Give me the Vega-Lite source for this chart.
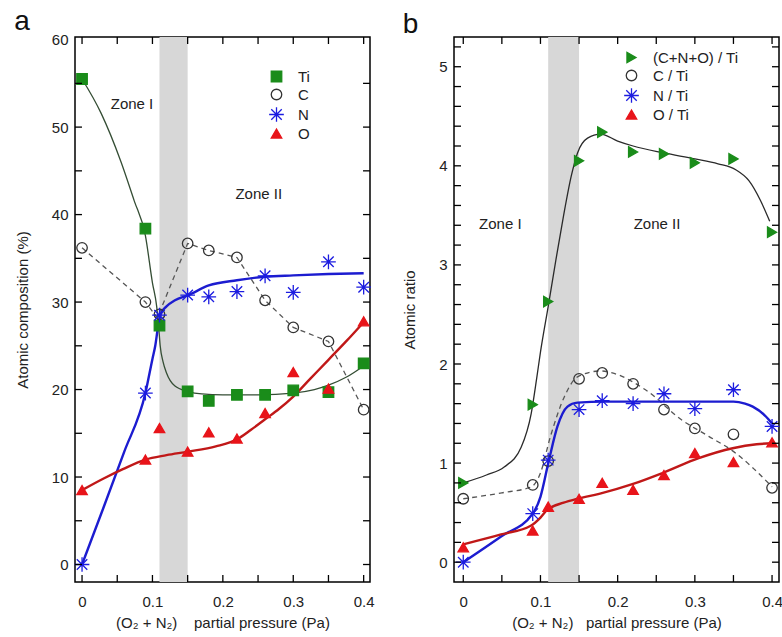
{
  "$schema": "https://vega.github.io/schema/vega-lite/v6.json",
  "background": "white",
  "padding": {"left": 13, "top": 6, "right": 0, "bottom": 0},
  "spacing": 26,
  "datasets": {
    "xt": [{"v": 0}, {"v": 0.05}, {"v": 0.1}, {"v": 0.15}, {"v": 0.2}, {"v": 0.25}, {"v": 0.3}, {"v": 0.35}, {"v": 0.4}],
    "ytA": [{"v": 0}, {"v": 5}, {"v": 10}, {"v": 15}, {"v": 20}, {"v": 25}, {"v": 30}, {"v": 35}, {"v": 40}, {"v": 45}, {"v": 50}, {"v": 55}],
    "ytB": [{"v": 0}, {"v": 0.2}, {"v": 0.4}, {"v": 0.6}, {"v": 0.8}, {"v": 1}, {"v": 1.2}, {"v": 1.4}, {"v": 1.6}, {"v": 1.8}, {"v": 2}, {"v": 2.2}, {"v": 2.4}, {"v": 2.6}, {"v": 2.8}, {"v": 3}, {"v": 3.2}, {"v": 3.4}, {"v": 3.6}, {"v": 3.8}, {"v": 4}, {"v": 4.2}, {"v": 4.4}, {"v": 4.6}, {"v": 4.8}, {"v": 5}, {"v": 5.2}],
    "ptsA": [
      {"x": 0, "y": 55.5, "el": "Ti"}, {"x": 0.09, "y": 38.4, "el": "Ti"}, {"x": 0.11, "y": 27.3, "el": "Ti"}, {"x": 0.15, "y": 19.8, "el": "Ti"}, {"x": 0.18, "y": 18.7, "el": "Ti"}, {"x": 0.22, "y": 19.4, "el": "Ti"}, {"x": 0.26, "y": 19.4, "el": "Ti"}, {"x": 0.30, "y": 19.9, "el": "Ti"}, {"x": 0.35, "y": 19.7, "el": "Ti"}, {"x": 0.40, "y": 23.0, "el": "Ti"},
      {"x": 0, "y": 36.2, "el": "C"}, {"x": 0.09, "y": 30.0, "el": "C"}, {"x": 0.11, "y": 28.6, "el": "C"}, {"x": 0.15, "y": 36.7, "el": "C"}, {"x": 0.18, "y": 35.9, "el": "C"}, {"x": 0.22, "y": 35.1, "el": "C"}, {"x": 0.26, "y": 30.2, "el": "C"}, {"x": 0.30, "y": 27.1, "el": "C"}, {"x": 0.35, "y": 25.5, "el": "C"}, {"x": 0.40, "y": 17.7, "el": "C"},
      {"x": 0, "y": 0, "el": "N"}, {"x": 0.09, "y": 19.6, "el": "N"}, {"x": 0.11, "y": 28.5, "el": "N"}, {"x": 0.15, "y": 30.8, "el": "N"}, {"x": 0.18, "y": 30.6, "el": "N"}, {"x": 0.22, "y": 31.2, "el": "N"}, {"x": 0.26, "y": 33.0, "el": "N"}, {"x": 0.30, "y": 31.1, "el": "N"}, {"x": 0.35, "y": 34.6, "el": "N"}, {"x": 0.40, "y": 31.7, "el": "N"},
      {"x": 0, "y": 8.5, "el": "O"}, {"x": 0.09, "y": 12.0, "el": "O"}, {"x": 0.11, "y": 15.6, "el": "O"}, {"x": 0.15, "y": 12.9, "el": "O"}, {"x": 0.18, "y": 15.1, "el": "O"}, {"x": 0.22, "y": 14.4, "el": "O"}, {"x": 0.26, "y": 17.3, "el": "O"}, {"x": 0.30, "y": 22.0, "el": "O"}, {"x": 0.35, "y": 20.1, "el": "O"}, {"x": 0.40, "y": 27.8, "el": "O"}
    ],
    "fitA": [
      {"x": 0, "y": 55.5, "s": "Ti"}, {"x": 0.027, "y": 51.6, "s": "Ti"}, {"x": 0.055, "y": 46.1, "s": "Ti"}, {"x": 0.074, "y": 41.6, "s": "Ti"}, {"x": 0.09, "y": 37.6, "s": "Ti"}, {"x": 0.1, "y": 32.2, "s": "Ti"}, {"x": 0.106, "y": 29.5, "s": "Ti"}, {"x": 0.109, "y": 27.0, "s": "Ti"}, {"x": 0.111, "y": 25.0, "s": "Ti"}, {"x": 0.115, "y": 23.2, "s": "Ti"}, {"x": 0.12, "y": 21.9, "s": "Ti"}, {"x": 0.132, "y": 20.4, "s": "Ti"}, {"x": 0.15, "y": 19.8, "s": "Ti"}, {"x": 0.17, "y": 19.5, "s": "Ti"}, {"x": 0.2, "y": 19.4, "s": "Ti"}, {"x": 0.25, "y": 19.4, "s": "Ti"}, {"x": 0.3, "y": 19.6, "s": "Ti"}, {"x": 0.33, "y": 20.0, "s": "Ti"}, {"x": 0.35, "y": 20.5, "s": "Ti"}, {"x": 0.375, "y": 21.4, "s": "Ti"}, {"x": 0.4, "y": 22.7, "s": "Ti"},
      {"x": 0, "y": 36.2, "s": "C"}, {"x": 0.09, "y": 30.0, "s": "C"}, {"x": 0.107, "y": 28.2, "s": "C"}, {"x": 0.15, "y": 36.7, "s": "C"}, {"x": 0.18, "y": 35.9, "s": "C"}, {"x": 0.22, "y": 35.1, "s": "C"}, {"x": 0.26, "y": 30.2, "s": "C"}, {"x": 0.30, "y": 27.1, "s": "C"}, {"x": 0.35, "y": 25.5, "s": "C"}, {"x": 0.40, "y": 17.7, "s": "C"},
      {"x": 0, "y": 0, "s": "N"}, {"x": 0.03, "y": 6.4, "s": "N"}, {"x": 0.06, "y": 12.9, "s": "N"}, {"x": 0.09, "y": 19.6, "s": "N"}, {"x": 0.1, "y": 23.5, "s": "N"}, {"x": 0.104, "y": 25.0, "s": "N"}, {"x": 0.108, "y": 27.2, "s": "N"}, {"x": 0.112, "y": 28.7, "s": "N"}, {"x": 0.12, "y": 29.5, "s": "N"}, {"x": 0.132, "y": 30.2, "s": "N"}, {"x": 0.151, "y": 30.8, "s": "N"}, {"x": 0.18, "y": 31.9, "s": "N"}, {"x": 0.22, "y": 32.5, "s": "N"}, {"x": 0.26, "y": 32.9, "s": "N"}, {"x": 0.3, "y": 33.05, "s": "N"}, {"x": 0.35, "y": 33.2, "s": "N"}, {"x": 0.4, "y": 33.3, "s": "N"},
      {"x": 0, "y": 8.5, "s": "O"}, {"x": 0.03, "y": 9.8, "s": "O"}, {"x": 0.058, "y": 10.9, "s": "O"}, {"x": 0.09, "y": 12.0, "s": "O"}, {"x": 0.12, "y": 12.5, "s": "O"}, {"x": 0.15, "y": 12.9, "s": "O"}, {"x": 0.19, "y": 13.5, "s": "O"}, {"x": 0.22, "y": 14.3, "s": "O"}, {"x": 0.24, "y": 15.4, "s": "O"}, {"x": 0.26, "y": 16.6, "s": "O"}, {"x": 0.28, "y": 17.8, "s": "O"}, {"x": 0.3, "y": 19.2, "s": "O"}, {"x": 0.325, "y": 21.3, "s": "O"}, {"x": 0.35, "y": 23.4, "s": "O"}, {"x": 0.375, "y": 25.5, "s": "O"}, {"x": 0.4, "y": 27.7, "s": "O"}
    ],
    "zoneA": [
      {"x": 0.071, "y": 52.6, "t": "Zone I"},
      {"x": 0.251, "y": 42.4, "t": "Zone II"}
    ],
    "ptsB": [
      {"x": 0, "y": 0.80, "r": "(C+N+O) / Ti"}, {"x": 0.09, "y": 1.59, "r": "(C+N+O) / Ti"}, {"x": 0.11, "y": 2.63, "r": "(C+N+O) / Ti"}, {"x": 0.15, "y": 4.05, "r": "(C+N+O) / Ti"}, {"x": 0.18, "y": 4.34, "r": "(C+N+O) / Ti"}, {"x": 0.22, "y": 4.14, "r": "(C+N+O) / Ti"}, {"x": 0.26, "y": 4.12, "r": "(C+N+O) / Ti"}, {"x": 0.30, "y": 4.03, "r": "(C+N+O) / Ti"}, {"x": 0.35, "y": 4.07, "r": "(C+N+O) / Ti"}, {"x": 0.40, "y": 3.33, "r": "(C+N+O) / Ti"},
      {"x": 0, "y": 0.64, "r": "C / Ti"}, {"x": 0.09, "y": 0.78, "r": "C / Ti"}, {"x": 0.11, "y": 1.02, "r": "C / Ti"}, {"x": 0.15, "y": 1.85, "r": "C / Ti"}, {"x": 0.18, "y": 1.91, "r": "C / Ti"}, {"x": 0.22, "y": 1.80, "r": "C / Ti"}, {"x": 0.26, "y": 1.54, "r": "C / Ti"}, {"x": 0.30, "y": 1.35, "r": "C / Ti"}, {"x": 0.35, "y": 1.29, "r": "C / Ti"}, {"x": 0.40, "y": 0.75, "r": "C / Ti"},
      {"x": 0, "y": 0, "r": "N / Ti"}, {"x": 0.09, "y": 0.49, "r": "N / Ti"}, {"x": 0.11, "y": 1.03, "r": "N / Ti"}, {"x": 0.15, "y": 1.54, "r": "N / Ti"}, {"x": 0.18, "y": 1.63, "r": "N / Ti"}, {"x": 0.22, "y": 1.60, "r": "N / Ti"}, {"x": 0.26, "y": 1.70, "r": "N / Ti"}, {"x": 0.30, "y": 1.55, "r": "N / Ti"}, {"x": 0.35, "y": 1.74, "r": "N / Ti"}, {"x": 0.40, "y": 1.37, "r": "N / Ti"},
      {"x": 0, "y": 0.15, "r": "O / Ti"}, {"x": 0.09, "y": 0.32, "r": "O / Ti"}, {"x": 0.11, "y": 0.56, "r": "O / Ti"}, {"x": 0.15, "y": 0.64, "r": "O / Ti"}, {"x": 0.18, "y": 0.80, "r": "O / Ti"}, {"x": 0.22, "y": 0.73, "r": "O / Ti"}, {"x": 0.26, "y": 0.88, "r": "O / Ti"}, {"x": 0.30, "y": 1.10, "r": "O / Ti"}, {"x": 0.35, "y": 1.01, "r": "O / Ti"}, {"x": 0.40, "y": 1.21, "r": "O / Ti"}
    ],
    "fitB": [
      {"x": 0, "y": 0.80, "s": "CNO"}, {"x": 0.03, "y": 0.88, "s": "CNO"}, {"x": 0.053, "y": 0.96, "s": "CNO"}, {"x": 0.075, "y": 1.16, "s": "CNO"}, {"x": 0.088, "y": 1.5, "s": "CNO"}, {"x": 0.095, "y": 1.85, "s": "CNO"}, {"x": 0.1, "y": 2.12, "s": "CNO"}, {"x": 0.11, "y": 2.58, "s": "CNO"}, {"x": 0.12, "y": 3.05, "s": "CNO"}, {"x": 0.13, "y": 3.5, "s": "CNO"}, {"x": 0.14, "y": 3.9, "s": "CNO"}, {"x": 0.148, "y": 4.13, "s": "CNO"}, {"x": 0.161, "y": 4.28, "s": "CNO"}, {"x": 0.178, "y": 4.32, "s": "CNO"}, {"x": 0.2, "y": 4.25, "s": "CNO"}, {"x": 0.22, "y": 4.2, "s": "CNO"}, {"x": 0.26, "y": 4.13, "s": "CNO"}, {"x": 0.3, "y": 4.07, "s": "CNO"}, {"x": 0.33, "y": 4.02, "s": "CNO"}, {"x": 0.353, "y": 3.96, "s": "CNO"}, {"x": 0.37, "y": 3.85, "s": "CNO"}, {"x": 0.385, "y": 3.65, "s": "CNO"}, {"x": 0.397, "y": 3.44, "s": "CNO"},
      {"x": 0, "y": 0.64, "s": "C"}, {"x": 0.05, "y": 0.7, "s": "C"}, {"x": 0.088, "y": 0.76, "s": "C"}, {"x": 0.1, "y": 0.9, "s": "C"}, {"x": 0.113, "y": 1.27, "s": "C"}, {"x": 0.131, "y": 1.67, "s": "C"}, {"x": 0.148, "y": 1.87, "s": "C"}, {"x": 0.178, "y": 1.93, "s": "C"}, {"x": 0.193, "y": 1.91, "s": "C"}, {"x": 0.236, "y": 1.74, "s": "C"}, {"x": 0.284, "y": 1.43, "s": "C"}, {"x": 0.318, "y": 1.27, "s": "C"}, {"x": 0.353, "y": 1.10, "s": "C"}, {"x": 0.374, "y": 0.96, "s": "C"}, {"x": 0.4, "y": 0.76, "s": "C"},
      {"x": 0, "y": 0, "s": "N"}, {"x": 0.049, "y": 0.26, "s": "N"}, {"x": 0.09, "y": 0.49, "s": "N"}, {"x": 0.1, "y": 0.66, "s": "N"}, {"x": 0.111, "y": 1.03, "s": "N"}, {"x": 0.122, "y": 1.37, "s": "N"}, {"x": 0.135, "y": 1.57, "s": "N"}, {"x": 0.148, "y": 1.61, "s": "N"}, {"x": 0.183, "y": 1.62, "s": "N"}, {"x": 0.3, "y": 1.62, "s": "N"}, {"x": 0.35, "y": 1.62, "s": "N"}, {"x": 0.365, "y": 1.6, "s": "N"}, {"x": 0.375, "y": 1.57, "s": "N"}, {"x": 0.392, "y": 1.47, "s": "N"}, {"x": 0.4, "y": 1.40, "s": "N"},
      {"x": 0, "y": 0.18, "s": "O"}, {"x": 0.049, "y": 0.28, "s": "O"}, {"x": 0.088, "y": 0.37, "s": "O"}, {"x": 0.1, "y": 0.45, "s": "O"}, {"x": 0.109, "y": 0.53, "s": "O"}, {"x": 0.13, "y": 0.6, "s": "O"}, {"x": 0.148, "y": 0.64, "s": "O"}, {"x": 0.176, "y": 0.69, "s": "O"}, {"x": 0.22, "y": 0.79, "s": "O"}, {"x": 0.258, "y": 0.9, "s": "O"}, {"x": 0.305, "y": 1.05, "s": "O"}, {"x": 0.349, "y": 1.15, "s": "O"}, {"x": 0.38, "y": 1.19, "s": "O"}, {"x": 0.4, "y": 1.20, "s": "O"}
    ],
    "zoneB": [
      {"x": 0.048, "y": 3.41, "t": "Zone I"},
      {"x": 0.251, "y": 3.41, "t": "Zone II"}
    ],
    "band": [{"x0": 0.11, "x1": 0.15}]
  },
  "hconcat": [
    {
      "title": {"text": "a", "anchor": "start", "frame": "bounds", "fontSize": 28, "fontWeight": "normal", "offset": -3, "dx": -1},
      "width": 295,
      "height": 545,
      "resolve": {"axis": {"x": "independent", "y": "independent"}},
      "layer": [
        {
          "data": {"name": "band"},
          "mark": {"type": "rect", "color": "#d7d7d7"},
          "encoding": {
            "x": {"field": "x0", "type": "quantitative", "scale": {"domain": [-0.01, 0.409], "nice": false, "zero": false}, "axis": null},
            "x2": {"field": "x1"}
          }
        },
        {
          "data": {"name": "fitA"},
          "transform": [{"filter": "datum.s === 'Ti'"}],
          "mark": {"type": "line", "interpolate": "monotone", "color": "#344d34", "strokeWidth": 1.3},
          "encoding": {
            "x": {"field": "x", "type": "quantitative", "axis": null},
            "y": {"field": "y", "type": "quantitative", "scale": {"domain": [-2, 60.3], "nice": false, "zero": false}, "axis": null}
          }
        },
        {
          "data": {"name": "fitA"},
          "transform": [{"filter": "datum.s === 'C'"}],
          "mark": {"type": "line", "interpolate": "linear", "color": "#555555", "strokeWidth": 1.3, "strokeDash": [5, 4]},
          "encoding": {
            "x": {"field": "x", "type": "quantitative", "axis": null},
            "y": {"field": "y", "type": "quantitative", "axis": null}
          }
        },
        {
          "data": {"name": "fitA"},
          "transform": [{"filter": "datum.s === 'N'"}],
          "mark": {"type": "line", "interpolate": "monotone", "color": "#1c1cd0", "strokeWidth": 2.4},
          "encoding": {
            "x": {"field": "x", "type": "quantitative", "axis": null},
            "y": {"field": "y", "type": "quantitative", "axis": null}
          }
        },
        {
          "data": {"name": "fitA"},
          "transform": [{"filter": "datum.s === 'O'"}],
          "mark": {"type": "line", "interpolate": "monotone", "color": "#c01818", "strokeWidth": 2.4},
          "encoding": {
            "x": {"field": "x", "type": "quantitative", "axis": null},
            "y": {"field": "y", "type": "quantitative", "axis": null}
          }
        },
        {
          "data": {"name": "ptsA"},
          "mark": {"type": "point", "opacity": 1, "size": 110, "strokeWidth": 1.3},
          "encoding": {
            "x": {"field": "x", "type": "quantitative", "title": "(O₂ + N₂)\u00a0\u00a0\u00a0\u00a0partial pressure (Pa)",
              "axis": {"orient": "bottom", "values": [0, 0.05, 0.1, 0.15, 0.2, 0.25, 0.3, 0.35, 0.4], "labelExpr": "round(datum.value*20) % 2 === 0 ? format(datum.value, '.1~f') : ''"}},
            "y": {"field": "y", "type": "quantitative", "title": "Atomic composition (%)",
              "axis": {"orient": "left", "values": [0, 5, 10, 15, 20, 25, 30, 35, 40, 45, 50, 55, 60], "labelExpr": "datum.value % 10 === 0 ? datum.label : ''", "titlePadding": 21}},
            "shape": {"field": "el", "type": "nominal", "scale": {"domain": ["Ti", "C", "N", "O"], "range": ["square", "circle", "M-1.4,0L1.4,0M0,-1.4L0,1.4M-1,-1L1,1M-1,1L1,-1", "triangle-up"]},
              "legend": {"title": null, "orient": "none", "legendX": 194, "legendY": 32}},
            "fill": {"field": "el", "type": "nominal", "scale": {"domain": ["Ti", "C", "N", "O"], "range": ["#1a8c1a", "transparent", "transparent", "#e8141a"]},
              "legend": {"title": null, "orient": "none", "legendX": 194, "legendY": 32}},
            "stroke": {"field": "el", "type": "nominal", "scale": {"domain": ["Ti", "C", "N", "O"], "range": ["#1a8c1a", "#333333", "#1c1ce0", "#e8141a"]},
              "legend": {"title": null, "orient": "none", "legendX": 194, "legendY": 32}}
          }
        },
        {
          "data": {"name": "zoneA"},
          "mark": {"type": "text", "fontSize": 15, "color": "#222222", "align": "center", "baseline": "middle"},
          "encoding": {
            "x": {"field": "x", "type": "quantitative", "axis": null},
            "y": {"field": "y", "type": "quantitative", "axis": null},
            "text": {"field": "t"}
          }
        },
        {
          "data": {"name": "xt"},
          "mark": {"type": "rule", "color": "black", "strokeWidth": 1.3},
          "encoding": {
            "x": {"field": "v", "type": "quantitative", "axis": null},
            "y": {"datum": -2, "type": "quantitative", "axis": null},
            "y2": {"datum": -1.2}
          }
        },
        {
          "data": {"name": "xt"},
          "mark": {"type": "rule", "color": "black", "strokeWidth": 1.3},
          "encoding": {
            "x": {"field": "v", "type": "quantitative", "axis": null},
            "y": {"datum": 60.3, "type": "quantitative", "axis": null},
            "y2": {"datum": 59.5}
          }
        },
        {
          "data": {"name": "ytA"},
          "mark": {"type": "rule", "color": "black", "strokeWidth": 1.3},
          "encoding": {
            "y": {"field": "v", "type": "quantitative", "axis": null},
            "x": {"datum": -0.01, "type": "quantitative", "axis": null},
            "x2": {"datum": -0.0001}
          }
        },
        {
          "data": {"name": "ytA"},
          "mark": {"type": "rule", "color": "black", "strokeWidth": 1.3},
          "encoding": {
            "y": {"field": "v", "type": "quantitative", "axis": null},
            "x": {"datum": 0.409, "type": "quantitative", "axis": null},
            "x2": {"datum": 0.3991}
          }
        }
      ]
    },
    {
      "title": {"text": "b", "anchor": "start", "frame": "bounds", "fontSize": 28, "fontWeight": "normal", "offset": -3, "dx": 0},
      "width": 325,
      "height": 545,
      "resolve": {"axis": {"x": "independent", "y": "independent"}},
      "layer": [
        {
          "data": {"name": "band"},
          "mark": {"type": "rect", "color": "#d7d7d7"},
          "encoding": {
            "x": {"field": "x0", "type": "quantitative", "scale": {"domain": [-0.012, 0.409], "nice": false, "zero": false}, "axis": null},
            "x2": {"field": "x1"}
          }
        },
        {
          "data": {"name": "fitB"},
          "transform": [{"filter": "datum.s === 'CNO'"}],
          "mark": {"type": "line", "interpolate": "monotone", "color": "#2a2a2a", "strokeWidth": 1.3},
          "encoding": {
            "x": {"field": "x", "type": "quantitative", "axis": null},
            "y": {"field": "y", "type": "quantitative", "scale": {"domain": [-0.2, 5.3], "nice": false, "zero": false}, "axis": null}
          }
        },
        {
          "data": {"name": "fitB"},
          "transform": [{"filter": "datum.s === 'C'"}],
          "mark": {"type": "line", "interpolate": "monotone", "color": "#555555", "strokeWidth": 1.3, "strokeDash": [5, 4]},
          "encoding": {
            "x": {"field": "x", "type": "quantitative", "axis": null},
            "y": {"field": "y", "type": "quantitative", "axis": null}
          }
        },
        {
          "data": {"name": "fitB"},
          "transform": [{"filter": "datum.s === 'N'"}],
          "mark": {"type": "line", "interpolate": "monotone", "color": "#1c1cd0", "strokeWidth": 2.4},
          "encoding": {
            "x": {"field": "x", "type": "quantitative", "axis": null},
            "y": {"field": "y", "type": "quantitative", "axis": null}
          }
        },
        {
          "data": {"name": "fitB"},
          "transform": [{"filter": "datum.s === 'O'"}],
          "mark": {"type": "line", "interpolate": "monotone", "color": "#c01818", "strokeWidth": 2.4},
          "encoding": {
            "x": {"field": "x", "type": "quantitative", "axis": null},
            "y": {"field": "y", "type": "quantitative", "axis": null}
          }
        },
        {
          "data": {"name": "ptsB"},
          "mark": {"type": "point", "opacity": 1, "size": 110, "strokeWidth": 1.3},
          "encoding": {
            "x": {"field": "x", "type": "quantitative", "title": "(O₂ + N₂)\u00a0\u00a0\u00a0partial pressure (Pa)",
              "axis": {"orient": "bottom", "values": [0, 0.05, 0.1, 0.15, 0.2, 0.25, 0.3, 0.35, 0.4], "labelExpr": "round(datum.value*20) % 2 === 0 ? format(datum.value, '.1~f') : ''"}},
            "y": {"field": "y", "type": "quantitative", "title": "Atomic ratio",
              "axis": {"orient": "left", "values": [0, 0.2, 0.4, 0.6, 0.8, 1, 1.2, 1.4, 1.6, 1.8, 2, 2.2, 2.4, 2.6, 2.8, 3, 3.2, 3.4, 3.6, 3.8, 4, 4.2, 4.4, 4.6, 4.8, 5, 5.2], "labelExpr": "abs(datum.value - round(datum.value)) < 0.01 ? format(datum.value, 'd') : ''", "titlePadding": 21}},
            "shape": {"field": "r", "type": "nominal", "scale": {"domain": ["(C+N+O) / Ti", "C / Ti", "N / Ti", "O / Ti"], "range": ["triangle-right", "circle", "M-1.4,0L1.4,0M0,-1.4L0,1.4M-1,-1L1,1M-1,1L1,-1", "triangle-up"]},
              "legend": {"title": null, "orient": "none", "legendX": 170, "legendY": 13}},
            "fill": {"field": "r", "type": "nominal", "scale": {"domain": ["(C+N+O) / Ti", "C / Ti", "N / Ti", "O / Ti"], "range": ["#1a8c1a", "transparent", "transparent", "#e8141a"]},
              "legend": {"title": null, "orient": "none", "legendX": 170, "legendY": 13}},
            "stroke": {"field": "r", "type": "nominal", "scale": {"domain": ["(C+N+O) / Ti", "C / Ti", "N / Ti", "O / Ti"], "range": ["#1a8c1a", "#333333", "#1c1ce0", "#e8141a"]},
              "legend": {"title": null, "orient": "none", "legendX": 170, "legendY": 13}}
          }
        },
        {
          "data": {"name": "zoneB"},
          "mark": {"type": "text", "fontSize": 15, "color": "#222222", "align": "center", "baseline": "middle"},
          "encoding": {
            "x": {"field": "x", "type": "quantitative", "axis": null},
            "y": {"field": "y", "type": "quantitative", "axis": null},
            "text": {"field": "t"}
          }
        },
        {
          "data": {"name": "xt"},
          "mark": {"type": "rule", "color": "black", "strokeWidth": 1.3},
          "encoding": {
            "x": {"field": "v", "type": "quantitative", "axis": null},
            "y": {"datum": -0.2, "type": "quantitative", "axis": null},
            "y2": {"datum": -0.13}
          }
        },
        {
          "data": {"name": "xt"},
          "mark": {"type": "rule", "color": "black", "strokeWidth": 1.3},
          "encoding": {
            "x": {"field": "v", "type": "quantitative", "axis": null},
            "y": {"datum": 5.3, "type": "quantitative", "axis": null},
            "y2": {"datum": 5.23}
          }
        },
        {
          "data": {"name": "ytB"},
          "mark": {"type": "rule", "color": "black", "strokeWidth": 1.3},
          "encoding": {
            "y": {"field": "v", "type": "quantitative", "axis": null},
            "x": {"datum": -0.012, "type": "quantitative", "axis": null},
            "x2": {"datum": -0.0029}
          }
        },
        {
          "data": {"name": "ytB"},
          "mark": {"type": "rule", "color": "black", "strokeWidth": 1.3},
          "encoding": {
            "y": {"field": "v", "type": "quantitative", "axis": null},
            "x": {"datum": 0.409, "type": "quantitative", "axis": null},
            "x2": {"datum": 0.3999}
          }
        }
      ]
    }
  ],
  "resolve": {"scale": {"x": "independent", "y": "independent", "shape": "independent", "fill": "independent", "stroke": "independent"}, "legend": {"shape": "independent", "fill": "independent", "stroke": "independent"}},
  "config": {
    "font": "Liberation Sans",
    "view": {"stroke": "black", "strokeWidth": 1.5},
    "axis": {"domain": false, "ticks": false, "grid": false, "labelPadding": 7, "labelFont": "Liberation Sans", "labelFontSize": 15, "labelColor": "#222222", "titleFont": "Liberation Sans", "titleFontSize": 15, "titleFontWeight": "normal", "titleColor": "#222222"},
    "axisX": {"titlePadding": 6, "labelPadding": 12},
    "legend": {"labelFont": "Liberation Sans", "labelFontSize": 15, "labelColor": "#222222", "symbolSize": 110, "symbolStrokeWidth": 1.3, "symbolOpacity": 1, "rowPadding": 1, "labelOffset": 14, "padding": 0},
    "title": {"font": "Liberation Sans", "color": "#111111"}
  }
}
